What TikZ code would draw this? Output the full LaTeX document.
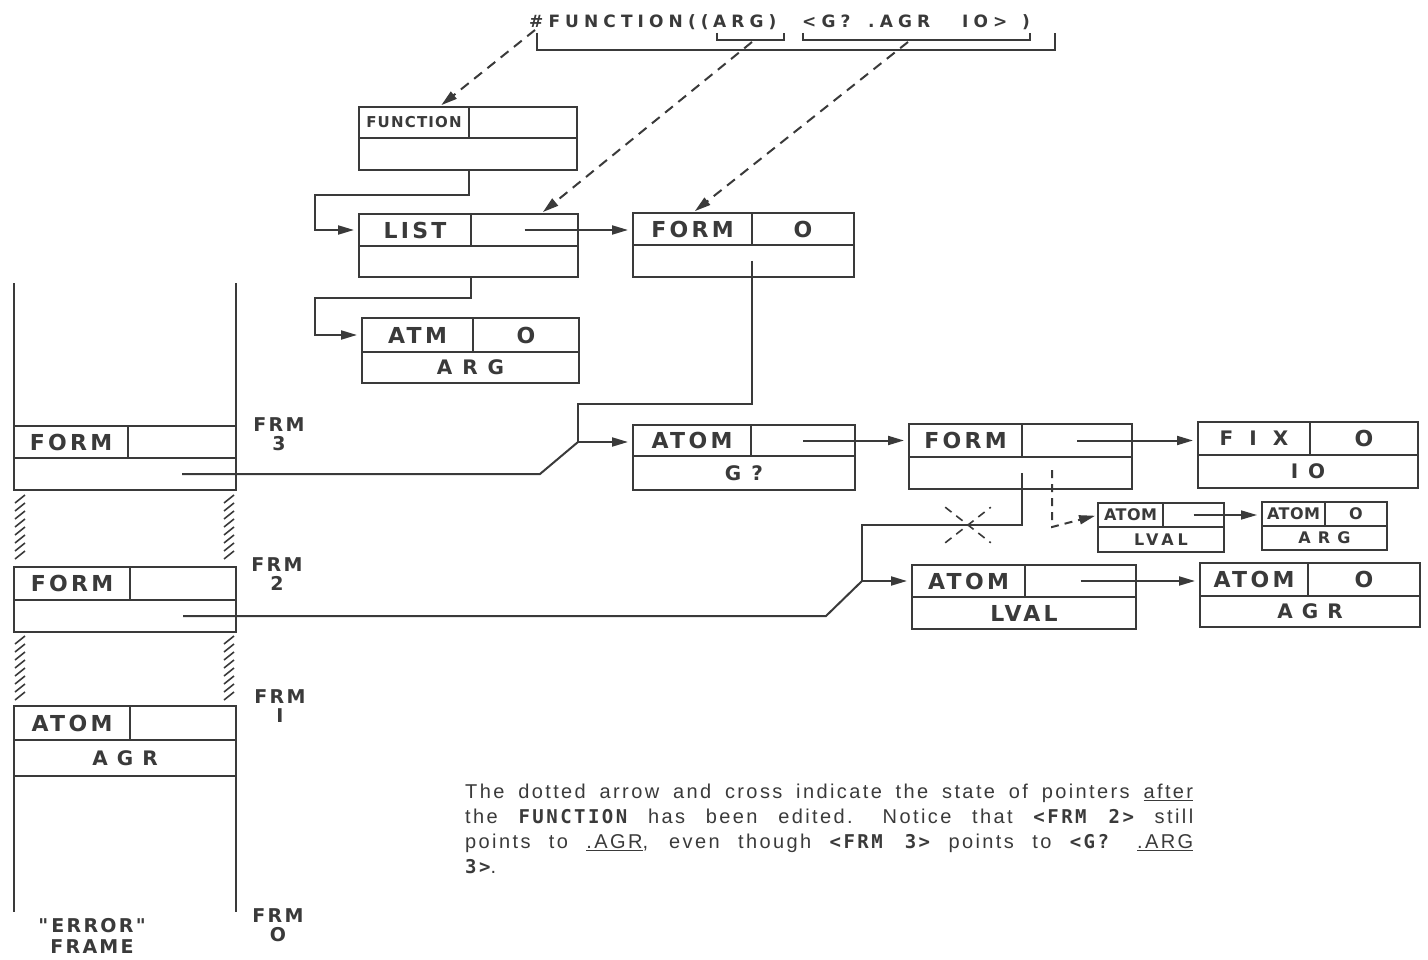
\documentclass[tikz,border=0pt]{standalone}
\usepackage{fontspec}
\setmainfont{Liberation Sans}
\newfontfamily\boxfont[LetterSpace=15]{DejaVu Sans}
\newfontfamily\notefont[LetterSpace=12]{Liberation Sans}
\newfontfamily\codefont[LetterSpace=13]{DejaVu Sans Mono}
\usetikzlibrary{arrows.meta,positioning,shapes.misc}
\definecolor{ink}{HTML}{3A3A3A}
\newcommand\mdl[1]{{\codefont\bfseries\fontsize{19}{25}\selectfont #1}}

\begin{document}
\begin{tikzpicture}[x=1pt, y=-1pt,
    field/.style={draw=ink, line width=2pt, inner sep=0pt, outer sep=0pt, minimum height=32pt, text=ink, font=\boxfont\bfseries\fontsize{22}{22}\selectfont},
    minifield/.style={field, line width=1.8pt, minimum height=24pt, font=\boxfont\bfseries\fontsize{16}{16}\selectfont\addfontfeature{LetterSpace=3}},
    spread/.style={font=\boxfont\bfseries\fontsize{20}{20}\selectfont\addfontfeature{LetterSpace=#1}},
    hdr/.style={inner sep=0pt, anchor=base west, text=ink, font=\boxfont\bfseries\fontsize{17}{17}\selectfont\addfontfeature{LetterSpace=30}},
    frmlabel/.style={align=center, inner sep=0pt, text=ink, font=\boxfont\bfseries\fontsize{19}{19}\selectfont\addfontfeature{LetterSpace=12}},
    link/.style={line width=2pt, draw=ink},
    ptr/.style={link, -{Triangle[length=16pt,width=9pt]}, shorten >=5pt},
    later/.style={link, -{Triangle[length=16pt,width=9pt]}, dash pattern=on 10pt off 7pt, shorten >=3pt},
    hatch/.style={line width=1.6pt, draw=ink}
]
    \fill[white] (0,0) rectangle (1428,960);
    \useasboundingbox (0,0) rectangle (1428,960);

    % Source text
    \node[hdr] (hdrA) at (529,28) {\#FUNCTION((};
    \node[hdr] (hdrB) at (713,28) {ARG)};
    \node[hdr] (hdrC) at (802,28) {<G?};
    \node[hdr] (hdrD) at (868,28) {.AGR};
    \node[hdr] (hdrE) at (962,28) {IO>};
    \node[hdr] (hdrF) at (1022,28) {)};
    \draw[link] (537,33) -- (537,50) -- (1055,50) -- (1055,33);
    \draw[link] (717,33) -- (717,40) -- (784,40) -- (784,33);
    \draw[link] (803,33) -- (803,40) -- (1030,40) -- (1030,33);
    \coordinate (fnbr) at (535,30);
    \coordinate (argbr) at (752,42);
    \coordinate (bodybr) at (908,42);

    % Function object
    \node[field, minimum width=110pt, minimum height=31pt, anchor=north west, font=\boxfont\bfseries\fontsize{15}{15}\selectfont\addfontfeature{LetterSpace=8}] (fnA) at (359,107) {FUNCTION};
    \node[field, minimum width=108pt, minimum height=31pt, anchor=north west] (fnB) at (fnA.north east) {};
    \node[field, minimum width=218pt, anchor=north west] (fnC) at (fnA.south west) {};

    \node[field, minimum width=112pt, anchor=north west] (listA) at (359,214) {LIST};
    \node[field, minimum width=107pt, anchor=north west] (listB) at (listA.north east) {};
    \node[field, minimum width=219pt, minimum height=31pt, anchor=north west] (listC) at (listA.south west) {};

    \node[field, minimum width=111pt, minimum height=34pt, anchor=north west] (atmA) at (362,318) {ATM};
    \node[field, minimum width=106pt, minimum height=34pt, anchor=north west] (atmB) at (atmA.north east) {O};
    \node[field, spread=50, minimum width=217pt, minimum height=31pt, anchor=north west] (atmC) at (atmA.south west) {ARG};

    \node[field, minimum width=119pt, anchor=north west] (formA) at (633,213) {FORM};
    \node[field, minimum width=102pt, anchor=north west] (formB) at (formA.north east) {O};
    \node[field, minimum width=221pt, anchor=north west] (formC) at (formA.south west) {};

    % Body objects
    \node[field, minimum width=118pt, minimum height=31pt, anchor=north west] (atomGA) at (633,425) {ATOM};
    \node[field, minimum width=104pt, minimum height=31pt, anchor=north west] (atomGB) at (atomGA.north east) {};
    \node[field, spread=50, minimum width=222pt, minimum height=34pt, anchor=north west] (atomGC) at (atomGA.south west) {G?};

    \node[field, minimum width=113pt, minimum height=33pt, anchor=north west] (formMA) at (909,424) {FORM};
    \node[field, minimum width=110pt, minimum height=33pt, anchor=north west] (formMB) at (formMA.north east) {};
    \node[field, minimum width=223pt, anchor=north west] (formMC) at (formMA.south west) {};

    \node[field, spread=80, minimum width=112pt, minimum height=33pt, anchor=north west] (fixA) at (1198,422) {FIX};
    \node[field, minimum width=108pt, minimum height=33pt, anchor=north west] (fixB) at (fixA.north east) {O};
    \node[field, spread=50, minimum width=220pt, minimum height=33pt, anchor=north west] (fixC) at (fixA.south west) {IO};

    \node[minifield, minimum width=65pt, anchor=north west] (lvA) at (1098,503) {ATOM};
    \node[minifield, minimum width=61pt, anchor=north west] (lvB) at (lvA.north east) {};
    \node[minifield, minimum width=126pt, minimum height=25pt, anchor=north west, font=\boxfont\bfseries\fontsize{16}{16}\selectfont\addfontfeature{LetterSpace=25}] (lvC) at (lvA.south west) {LVAL};

    \node[minifield, minimum width=63pt, anchor=north west] (argA) at (1262,502) {ATOM};
    \node[minifield, minimum width=62pt, anchor=north west] (argB) at (argA.north east) {O};
    \node[minifield, minimum width=125pt, anchor=north west, font=\boxfont\bfseries\fontsize{16}{16}\selectfont\addfontfeature{LetterSpace=45}] (argC) at (argA.south west) {ARG};

    \node[field, minimum width=113pt, anchor=north west] (atomLA) at (912,565) {ATOM};
    \node[field, minimum width=111pt, anchor=north west] (atomLB) at (atomLA.north east) {};
    \node[field, minimum width=224pt, anchor=north west] (atomLC) at (atomLA.south west) {LVAL};

    \node[field, minimum width=108pt, minimum height=33pt, anchor=north west] (agrA) at (1200,563) {ATOM};
    \node[field, minimum width=112pt, minimum height=33pt, anchor=north west] (agrB) at (agrA.north east) {O};
    \node[field, spread=45, minimum width=220pt, minimum height=31pt, anchor=north west] (agrC) at (agrA.south west) {AGR};

    % Stack frames
    \node[field, minimum width=114pt, anchor=north west] (f3A) at (14,426) {FORM};
    \node[field, minimum width=108pt, anchor=north west] (f3B) at (f3A.north east) {};
    \node[field, minimum width=222pt, anchor=north west] (f3C) at (f3A.south west) {};

    \node[field, minimum width=116pt, minimum height=33pt, anchor=north west] (f2A) at (14,567) {FORM};
    \node[field, minimum width=106pt, minimum height=33pt, anchor=north west] (f2B) at (f2A.north east) {};
    \node[field, minimum width=222pt, anchor=north west] (f2C) at (f2A.south west) {};

    \node[field, minimum width=116pt, minimum height=34pt, anchor=north west] (f1A) at (14,706) {ATOM};
    \node[field, minimum width=106pt, minimum height=34pt, anchor=north west] (f1B) at (f1A.north east) {};
    \node[field, spread=45, minimum width=222pt, minimum height=36pt, anchor=north west] (f1C) at (f1A.south west) {AGR};

    \draw[link] (f3A.north west) -- ++(0,-143);
    \draw[link] (f3B.north east) -- ++(0,-143);
    \draw[link] (f1C.south west) -- ++(0,136);
    \draw[link] (f1C.south east) -- ++(0,136);
    \foreach \y in {499,507,...,555} {
        \draw[hatch] (15,\y+4) -- (25,\y-4);
        \draw[hatch] (224,\y+4) -- (234,\y-4);
    }
    \foreach \y in {640,648,...,696} {
        \draw[hatch] (15,\y+4) -- (25,\y-4);
        \draw[hatch] (224,\y+4) -- (234,\y-4);
    }

    \node[frmlabel] (frm3) at (279,434) {FRM\\3};
    \node[frmlabel] (frm2) at (277,574) {FRM\\2};
    \node[frmlabel] (frm1) at (280,706) {FRM\\I};
    \node[frmlabel] (frm0) at (278,925) {FRM\\O};
    \node[frmlabel, font=\boxfont\bfseries\fontsize{19}{21}\selectfont\addfontfeature{LetterSpace=12}] (errframe) at (92,936) {"\,ERROR"\\FRAME};

    % Pointers
    \draw[later] (fnbr) -- ([xshift=-30pt]fnA.north east);
    \draw[later] (argbr) -- ([xshift=16pt]listB.north);
    \draw[later] (bodybr) -- (formA.north);

    \draw[ptr] (fnB.west |- fnC.south) -- ++(0,25) -- ++(-154,0) |- (listA.west);
    \draw[ptr] (listB.west |- listC.south) -- ++(0,21) -- ++(-156,0) |- (atmA.west);
    \draw[ptr] (listB.center) -- (formA.west |- listB.center);

    \coordinate (g3) at (578,442);
    \coordinate (g3b) at (540,474);
    \draw[link] (formB.west |- formC.center) -- ++(0,143) -| (g3);
    \draw[link] (f3B.center |- f3C.center) -- (g3b) -- (g3);
    \draw[ptr] (g3) -- (atomGA.west |- g3);
    \draw[ptr] (atomGB.center) -- (formMA.west |- atomGB.center);
    \draw[ptr] (formMB.center) -- (fixA.west |- formMB.center);

    \coordinate (l2) at (862,581);
    \coordinate (l2b) at (826,616);
    \draw[link] (formMB.west |- formMC.center) -- ++(0,52) -| (l2);
    \draw[link] (f2B.center |- f2C.center) -- (l2b) -- (l2);
    \draw[ptr] (l2) -- (atomLA.west |- l2);
    \draw[ptr] (atomLB.center) -- (agrA.west |- atomLB.center);
    \draw[ptr, line width=1.6pt] (lvB.center) -- (argA.west |- lvB.center);

    % After editing
    \node[cross out, draw=ink, line width=1.6pt, dash pattern=on 8pt off 6pt, minimum width=44pt, minimum height=34pt] (cut) at (968,525) {};
    \coordinate (newp) at (1052,470);
    \coordinate (bend) at (1052,527);
    \draw[later, dash pattern=on 8pt off 6pt] (newp) -- (bend) -- (lvA.west);

    % Note
    \node[anchor=north west, text width=728pt, align=justify, inner sep=0pt, text=ink, font=\notefont\fontsize{20}{25}\selectfont] (note) at (465,784) {The dotted arrow and cross indicate the state of pointers \underline{after}\linebreak the \mdl{FUNCTION} has been edited.\hspace*{30pt}Notice that \mdl{<FRM}\hspace*{22pt}\mdl{2>} still\linebreak points to \underline{.AGR}, even though \mdl{<FRM}\hspace*{22pt}\mdl{3>} points to \mdl{<G?}\hspace*{28pt}\underline{.ARG}\linebreak \mdl{3>}.};
\end{tikzpicture}
\end{document}
